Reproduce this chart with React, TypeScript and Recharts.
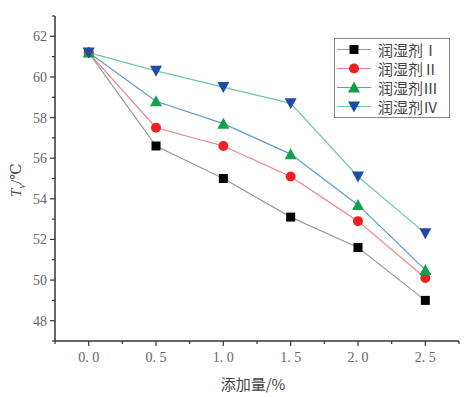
import React from "react";
import { LineChart, Line, XAxis, YAxis } from "recharts";

const doses = [0, 0.5, 1.0, 1.5, 2.0, 2.5];
const agentI = [61.2, 56.6, 55.0, 53.1, 51.6, 49.0];
const agentII = [61.2, 57.5, 56.6, 55.1, 52.9, 50.1];
const agentIII = [61.2, 58.8, 57.7, 56.2, 53.7, 50.5];
const agentIV = [61.2, 60.3, 59.5, 58.7, 55.1, 52.3];

const xTicks = [-0.25, 0, 0.25, 0.5, 0.75, 1, 1.25, 1.5, 1.75, 2, 2.25, 2.5, 2.75];
const xLabels = [0, 0.5, 1, 1.5, 2, 2.5];
const yTicks = [47, 48, 49, 50, 51, 52, 53, 54, 55, 56, 57, 58, 59, 60, 61, 62, 63];
const yLabels = [48, 50, 52, 54, 56, 58, 60, 62];

const seriesNames = ["润湿剂Ⅰ", "润湿剂Ⅱ", "润湿剂Ⅲ", "润湿剂Ⅳ"];

const data = doses.map((d, i) => ({
  dose: d,
  I: agentI[i],
  II: agentII[i],
  III: agentIII[i],
  IV: agentIV[i],
}));

const serif = "'Liberation Serif', 'DejaVu Serif', serif";
const cjk = "'Noto Sans CJK SC', serif";
const axisColor = "#333";
const tickText = "#666";

type MarkerKind = "square" | "circle" | "up" | "down";

function Marker({ kind, cx, cy, color }: { kind: MarkerKind; cx: number; cy: number; color: string }) {
  if (cx == null || cy == null) return null;
  if (kind === "square") return <rect x={cx - 4.5} y={cy - 4.5} width={9} height={9} fill={color} />;
  if (kind === "circle") return <circle cx={cx} cy={cy} r={5} fill={color} />;
  if (kind === "up")
    return <polygon points={`${cx},${cy - 6} ${cx - 6},${cy + 5} ${cx + 6},${cy + 5}`} fill={color} />;
  return <polygon points={`${cx},${cy + 6} ${cx - 6},${cy - 5} ${cx + 6},${cy - 5}`} fill={color} />;
}

const series = [
  { key: "I", line: "#9a9a9a", marker: "#000000", kind: "square" as MarkerKind },
  { key: "II", line: "#f2808e", marker: "#f02020", kind: "circle" as MarkerKind },
  { key: "III", line: "#5b9bd5", marker: "#12a04a", kind: "up" as MarkerKind },
  { key: "IV", line: "#6ecaa0", marker: "#1f4aa6", kind: "down" as MarkerKind },
];

function XTick(props: any) {
  const { x, y, payload } = props;
  const v = payload.value as number;
  const major = xLabels.includes(v);
  return (
    <g>
      <line x1={x} x2={x} y1={y} y2={y + (major ? 5 : 3)} stroke={axisColor} strokeWidth={1.2} />
      {major && (
        <text x={x} y={y + 21} textAnchor="middle" fontSize={14} fontFamily={serif} fill={tickText}>
          {v.toFixed(1).replace(".", ". ")}
        </text>
      )}
    </g>
  );
}

function YTick(props: any) {
  const { x, y, payload } = props;
  const v = payload.value as number;
  const major = yLabels.includes(v);
  return (
    <g>
      <line x1={x} x2={x - (major ? 5 : 3)} y1={y} y2={y} stroke={axisColor} strokeWidth={1.2} />
      {major && (
        <text x={x - 8} y={y + 5} textAnchor="end" fontSize={14} fontFamily={serif} fill={tickText}>
          {v}
        </text>
      )}
    </g>
  );
}

function LegendBox() {
  return (
    <div
      style={{
        position: "absolute",
        left: 334,
        top: 38,
        border: "1px solid #888",
        background: "#fff",
        padding: "1px 0 1px 1px",
        width: 116,
        boxSizing: "border-box",
      }}
    >
      {series.map((s, i) => (
        <div key={s.key} style={{ display: "flex", alignItems: "center", height: 19 }}>
          <svg width={36} height={19}>
            <line x1={1} x2={35} y1={9.5} y2={9.5} stroke={s.line} strokeWidth={1} />
            <Marker kind={s.kind} cx={18} cy={9.5} color={s.marker} />
          </svg>
          <span style={{ fontFamily: cjk, fontSize: 15, color: "#444", marginLeft: 6, lineHeight: "19px" }}>
            {seriesNames[i]}
          </span>
        </div>
      ))}
    </div>
  );
}

export default function App() {
  return (
    <div style={{ position: "absolute", left: 0, top: 0, width: 464, height: 397, background: "#fff" }}>
      <LineChart width={464} height={397} data={data} margin={{ top: 16, right: 5, left: 0, bottom: 0 }}>
        <XAxis
          dataKey="dose"
          type="number"
          domain={[-0.25, 2.75]}
          ticks={xTicks}
          interval={0}
          height={56}
          tickSize={0}
          tickMargin={0}
          tickLine={false}
          tick={<XTick />}
          stroke={axisColor}
          strokeWidth={1.5}
        />
        <YAxis
          type="number"
          domain={[47, 63]}
          ticks={yTicks}
          interval={0}
          width={55}
          tickSize={0}
          tickMargin={0}
          tickLine={false}
          tick={<YTick />}
          stroke={axisColor}
          strokeWidth={1.5}
        />
        {series.map((s) => (
          <Line
            key={s.key}
            dataKey={s.key}
            stroke={s.line}
            strokeWidth={1.2}
            isAnimationActive={false}
            dot={(p: any) => <Marker key={`${s.key}-${p.index}`} kind={s.kind} cx={p.cx} cy={p.cy} color={s.marker} />}
            activeDot={false}
          />
        ))}
      </LineChart>
      <LegendBox />
      <div
        style={{
          position: "absolute",
          left: 17,
          top: 180,
          transform: "translate(-50%, -50%) rotate(-90deg)",
          fontFamily: serif,
          fontSize: 15,
          color: "#444",
          whiteSpace: "nowrap",
        }}
      >
        <i>T</i>
        <sub style={{ fontSize: 10, fontStyle: "italic" }}>v</sub>/℃
      </div>
      <div
        style={{
          position: "absolute",
          left: 253,
          top: 383,
          transform: "translate(-50%, -50%)",
          fontFamily: cjk,
          fontSize: 15,
          color: "#444",
          whiteSpace: "nowrap",
        }}
      >
        添加量/%
      </div>
    </div>
  );
}
